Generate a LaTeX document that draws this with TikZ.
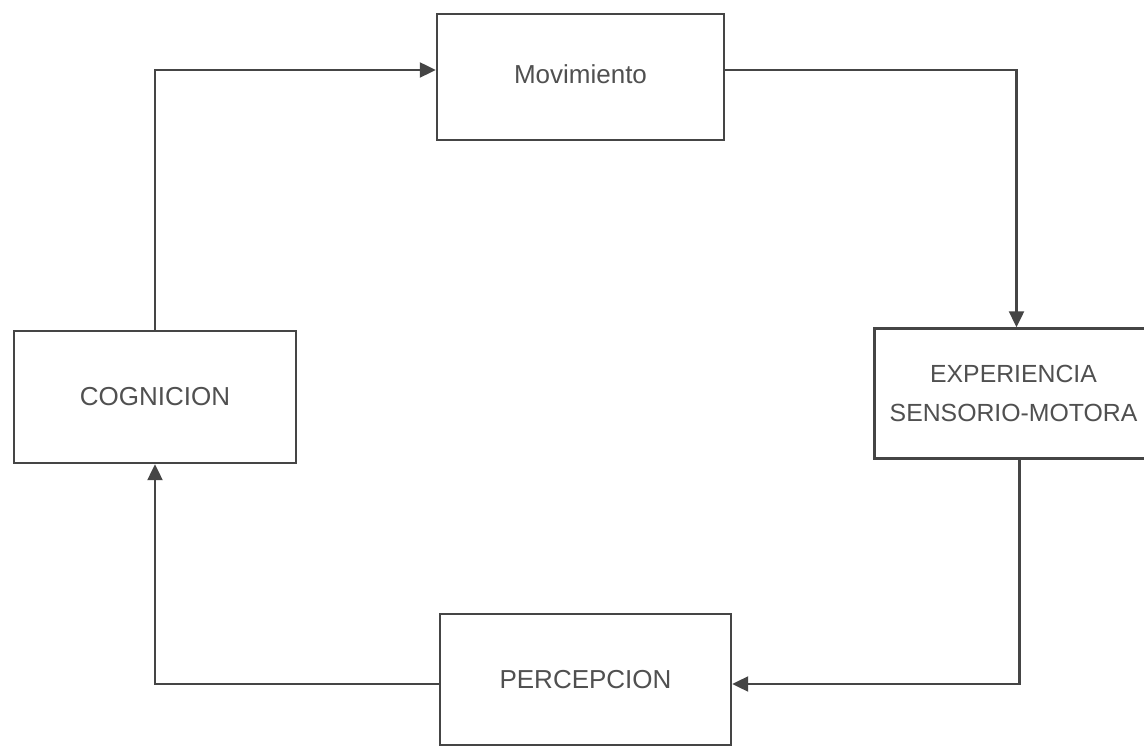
\documentclass[tikz,border=0pt]{standalone}
\usepackage{fontspec}
\setmainfont{Liberation Sans}
\usetikzlibrary{arrows.meta}
\definecolor{ink}{HTML}{454545}
\definecolor{txt}{HTML}{505050}
\begin{document}
\begin{tikzpicture}[x=0.5pt,y=-0.5pt,
  blk/.style={draw=ink,line width=1.2pt,inner sep=0pt,text=txt,font=\fontsize{13}{19.5}\selectfont,align=center},
  arr/.style={draw=ink,line width=1.1pt,-{Triangle[length=8pt,width=7.5pt]}}]
\path[use as bounding box,clip] (0,0) rectangle (1144,747);
\fill[white] (0,0) rectangle (1144,747);
\node[blk,minimum width=143.5pt,minimum height=63pt] (mov) at (580.5,77) {\raisebox{3pt}{Movimiento}};
\node[blk,minimum width=141pt,minimum height=66pt] (cog) at (155,397) {COGNICION};
\node[blk,font=\fontsize{12.4}{19.5}\selectfont,minimum width=139pt,minimum height=65pt] (exp) at (1013.5,393.5) {EXPERIENCIA\\SENSORIO-MOTORA};
\node[blk,minimum width=145.5pt,minimum height=65.5pt] (per) at (585.5,679.5) {PERCEPCION};
\draw[arr] (cog.north) |- ([yshift=3.5pt]mov.west);
\draw[arr] ([yshift=3.5pt]mov.east) -| ([xshift=1.5pt]exp.north);
\draw[arr] ([xshift=3pt]exp.south) |- ([yshift=-2.25pt]per.east);
\draw[arr] ([yshift=-2.25pt]per.west) -| (cog.south);
\end{tikzpicture}
\end{document}
